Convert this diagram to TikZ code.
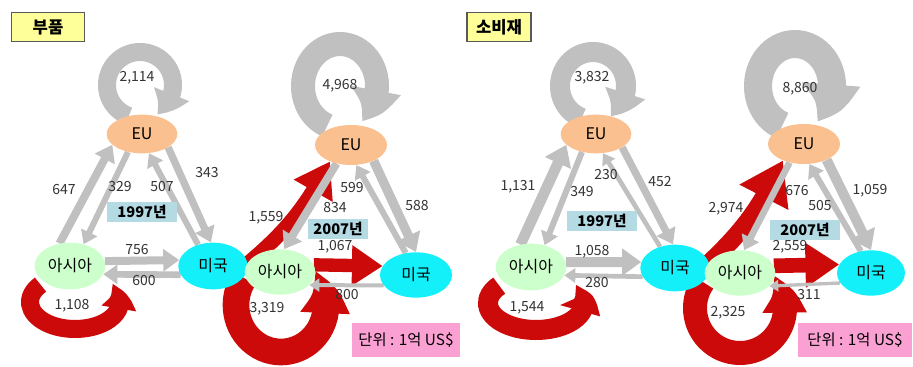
\documentclass[tikz,border=0pt]{standalone}
\usepackage{fontspec}
\setmainfont{Noto Sans CJK KR}
\usepackage{tikz}
\usetikzlibrary{arrows.meta,bending}
\usetikzlibrary{shapes.geometric,positioning}

\definecolor{euorange}{RGB}{250,192,143}
\definecolor{asiagreen}{RGB}{204,255,204}
\definecolor{usacyan}{RGB}{20,240,250}
\definecolor{flowgray}{RGB}{192,192,192}
\definecolor{flowred}{RGB}{204,10,10}
\definecolor{titleyellow}{RGB}{255,255,153}
\definecolor{yearblue}{RGB}{180,218,228}
\definecolor{unitpink}{RGB}{250,160,210}

\pgfdeclarelayer{flows}
\pgfsetlayers{flows,main}

\tikzset{
    region/.style={
           ellipse,
           inner sep=0pt,
           text centered,
           font=\fontsize{12}{14}\selectfont,
           },
    eu/.style={region, fill=euorange, minimum width=53pt, minimum height=29pt},
    asia/.style={region, fill=asiagreen, minimum width=53pt, minimum height=35pt},
    usa/.style={region, fill=usacyan, minimum width=52pt, minimum height=35pt},
    titlebox/.style={
           rectangle,
           draw=black!65, thick,
           fill=titleyellow,
           minimum height=22pt,
           font=\fontsize{12.5}{14}\selectfont\bfseries,
           },
    yearbox/.style={
           rectangle,
           fill=yearblue,
           minimum height=15.5pt,
           inner sep=0pt,
           font=\fontsize{11}{12}\selectfont\bfseries,
           },
    unitbox/.style={
           rectangle,
           fill=unitpink,
           minimum height=25pt,
           inner sep=0pt,
           font=\fontsize{11.5}{13}\selectfont,
           },
    numlabel/.style={
           inner sep=0pt,
           text=black!80,
           font=\fontsize{10.5}{12}\selectfont,
           },
    gflow/.style={draw=flowgray, line width=#1,
           -{Triangle[length=3pt 1.5, width=3pt 2.2]}},
    rflow/.style={draw=flowred, line width=#1,
           -{Triangle[length=0pt 2.3, width=0pt 2.9]}},
    gloop/.style={draw=flowgray, line width=#1,
           -{Triangle[bend, length=0pt 1.4, width=0pt 2.0]}},
    rloop/.style={draw=flowred, line width=#1,
           -{Triangle[bend, length=0pt 1.7, width=0pt 1.7]}},
}

\begin{document}
\begin{tikzpicture}[x=0.75pt,y=-0.75pt]
 \useasboundingbox (0,0) rectangle (913,367);

 % ===== parts (left panel) =====
 \node[titlebox, minimum width=55pt] (PTITLE) at (48,27) {부품};

 % regions 1997
 \node[eu] (PEU97) at (142,134) {EU};
 \node[asia] (PASIA97) at (70,266) {아시아};
 \node[usa] (PUSA97) at (213,266) {미국};
 \coordinate (PEULOOP97) at (140,85);
 \coordinate (PASIALOOP97) at (75,302);

 % regions 2007
 \node[eu, minimum width=54pt, minimum height=30pt] (PEU07) at (351,145) {EU};
 \node[asia, minimum height=34pt] (PASIA07) at (280,272) {아시아};
 \node[usa, minimum width=54pt, minimum height=34pt] (PUSA07) at (416,275) {미국};
 \coordinate (PEULOOP07) at (340,86);
 \coordinate (PASIALOOP07) at (281,305);

 % ===== consumer goods (right panel) =====
 \node[titlebox, minimum width=48pt] (CTITLE) at (499,27) {소비재};

 % regions 1997
 \node[eu] (CEU97) at (596,134) {EU};
 \node[asia] (CASIA97) at (531,267) {아시아};
 \node[usa] (CUSA97) at (675,268) {미국};
 \coordinate (CEULOOP97) at (593,86);
 \coordinate (CASIALOOP97) at (536,303);

 % regions 2007
 \node[eu, minimum width=54pt, minimum height=30pt] (CEU07) at (804,144) {EU};
 \node[asia, minimum height=34pt] (CASIA07) at (740,273) {아시아};
 \node[usa, minimum width=51pt, minimum height=34pt] (CUSA07) at (871,273) {미국};
 \coordinate (CEULOOP07) at (795,86);
 \coordinate (CASIALOOP07) at (740,308);

 % flows go under the regions
 \begin{pgfonlayer}{flows}
 \fill[white] (0,0) rectangle (913,367);

 % parts 1997
 \draw[gloop=13.5pt] (PEULOOP97) ++(110:33 and 33)
   arc[start angle=110, end angle=420, radius=33];
 \draw[rloop=13.5pt] (PASIALOOP97) ++(220:45 and 27)
   arc[start angle=220, end angle=-40, x radius=45, y radius=27];
 \draw[gflow=6pt] (PASIA97.115) -- (PEU97.200);
 \draw[gflow=4.5pt] (PEU97.232) -- (PASIA97.58);
 \draw[gflow=4.5pt] (PUSA97.125) -- (PEU97.290);
 \draw[gflow=5.5pt] (PEU97.333) -- (PUSA97.95);
 \draw[gflow=6pt] (PASIA97.8) -- (PUSA97.170);
 \draw[gflow=5pt] (PUSA97.195) -- (PASIA97.-14);

 % parts 2007
 \draw[gloop=18pt] (PEULOOP07) ++(110:37 and 42)
   arc[start angle=110, end angle=415, x radius=37, y radius=42];
 \draw[rloop=20pt] (PASIALOOP07) ++(215:45 and 47)
   arc[start angle=215, end angle=-45, x radius=45, y radius=47];
 \draw[rflow=11pt] (PASIA07.168) to[bend right=11] (PEU07.218);
 \draw[rflow=10pt] (PASIA07.12) -- (PUSA07.165);
 \draw[gflow=6pt] (PEU07.232) -- (PASIA07.80);
 \draw[gflow=4.5pt] (PUSA07.115) -- (PEU07.285);
 \draw[gflow=7pt] (PEU07.325) -- (PUSA07.90);
 \draw[gflow=3pt] (PUSA07.198) -- (PASIA07.-24);

 % consumer goods 1997
 \draw[gloop=15pt] (CEULOOP97) ++(110:33 and 34)
   arc[start angle=110, end angle=420, x radius=33, y radius=34];
 \draw[rloop=15pt] (CASIALOOP97) ++(220:48 and 27)
   arc[start angle=220, end angle=-40, x radius=48, y radius=27];
 \draw[gflow=8pt] (CASIA97.115) -- (CEU97.200);
 \draw[gflow=4.5pt] (CEU97.232) -- (CASIA97.58);
 \draw[gflow=3.5pt] (CUSA97.125) -- (CEU97.290);
 \draw[gflow=5.5pt] (CEU97.333) -- (CUSA97.95);
 \draw[gflow=7.5pt] (CASIA97.8) -- (CUSA97.170);
 \draw[gflow=3.5pt] (CUSA97.195) -- (CASIA97.-14);

 % consumer goods 2007
 \draw[gloop=21pt] (CEULOOP07) ++(110:37 and 42)
   arc[start angle=110, end angle=415, x radius=37, y radius=42];
 \draw[rloop=18pt] (CASIALOOP07) ++(215:45 and 45)
   arc[start angle=215, end angle=-45, x radius=45, y radius=45];
 \draw[rflow=13.5pt] (CASIA07.168) to[bend right=11] (CEU07.218);
 \draw[rflow=11pt] (CASIA07.12) -- (CUSA07.165);
 \draw[gflow=5pt] (CEU07.232) -- (CASIA07.80);
 \draw[gflow=4.5pt] (CUSA07.115) -- (CEU07.285);
 \draw[gflow=7.5pt] (CEU07.325) -- (CUSA07.90);
 \draw[gflow=2.5pt] (CUSA07.198) -- (CASIA07.-24);
 \end{pgfonlayer}

 % values, parts
 \node[numlabel] (P2114) at (137,78) {2,114};
 \node[numlabel] (P647) at (64,190) {647};
 \node[numlabel] (P329) at (120,187) {329};
 \node[numlabel] (P507) at (162,187) {507};
 \node[numlabel] (P343) at (207,173) {343};
 \node[yearbox, minimum width=52.5pt] (PY97) at (142,212) {1997년};
 \node[numlabel] (P756) at (137,250) {756};
 \node[numlabel] (P600) at (144,281) {600};
 \node[numlabel] (P1108) at (72,306) {1,108};

 \node[numlabel] (P4968) at (340,86) {4,968};
 \node[numlabel] (P1559) at (266,218) {1,559};
 \node[numlabel] (P599) at (352,188) {599};
 \node[numlabel] (P834) at (335,208) {834};
 \node[numlabel] (P588) at (417,206) {588};
 \node[yearbox, minimum width=45pt] (PY07) at (338,229) {2007년};
 \node[numlabel] (P1067) at (335,247) {1,067};
 \node[numlabel] (P800) at (347,295) {800};
 \node[numlabel] (P3319) at (267,309) {3,319};
 \node[unitbox, minimum width=81pt] (PUNIT) at (406,340) {단위 : 1억 US\$};

 % values, consumer goods
 \node[numlabel] (C3832) at (592,78) {3,832};
 \node[numlabel] (C1131) at (518,187) {1,131};
 \node[numlabel] (C349) at (582,192) {349};
 \node[numlabel] (C230) at (606,175) {230};
 \node[numlabel] (C452) at (660,182) {452};
 \node[yearbox, minimum width=52.5pt] (CY97) at (602,221) {1997년};
 \node[numlabel] (C1058) at (592,252) {1,058};
 \node[numlabel] (C280) at (597,283) {280};
 \node[numlabel] (C1544) at (527,308) {1,544};

 \node[numlabel] (C8860) at (800,89) {8,860};
 \node[numlabel] (C2974) at (726,209) {2,974};
 \node[numlabel] (C676) at (797,191) {676};
 \node[numlabel] (C505) at (820,206) {505};
 \node[numlabel] (C1059) at (870,191) {1,059};
 \node[yearbox, minimum width=52.5pt] (CY07) at (805,230) {2007년};
 \node[numlabel] (C2559) at (790,247) {2,559};
 \node[numlabel] (C311) at (809,295) {311};
 \node[numlabel] (C2325) at (728,313) {2,325};
 \node[unitbox, minimum width=86pt] (CUNIT) at (855,340) {단위 : 1억 US\$};

\end{tikzpicture}
\end{document}
